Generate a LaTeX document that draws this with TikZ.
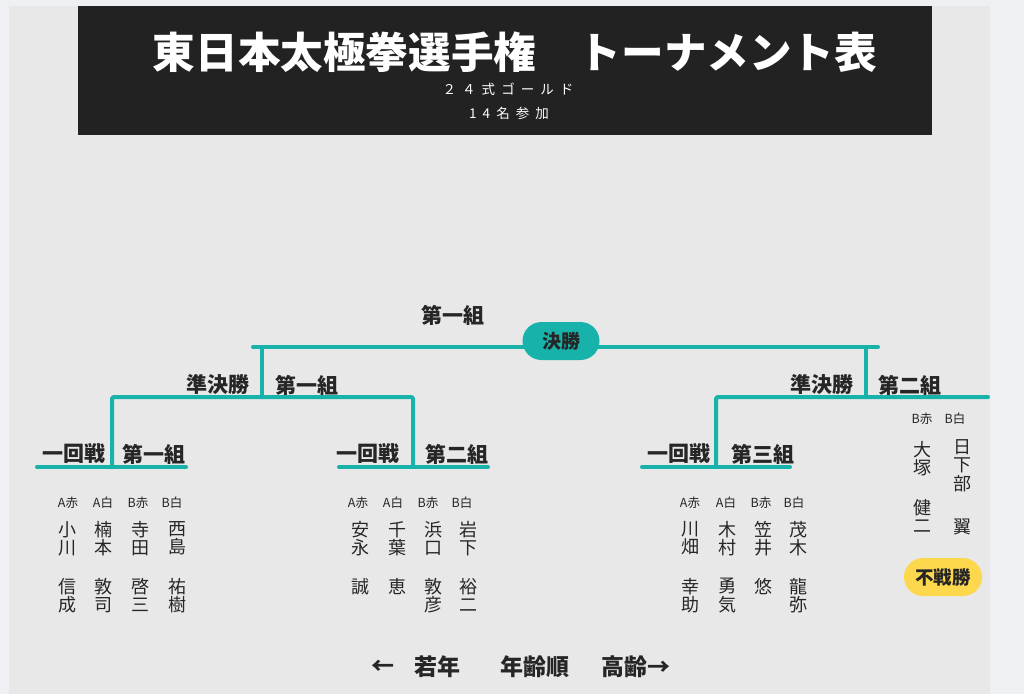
\documentclass[tikz,border=0pt]{standalone}
\usepackage{fontspec}
\setmainfont{Noto Sans CJK JP}
\newfontfamily\subfont[LetterSpace=45]{Noto Sans CJK JP}
\definecolor{pagebg}{HTML}{EEF0F4}
\definecolor{panelbg}{HTML}{E8E8E8}
\definecolor{headdark}{HTML}{222222}
\definecolor{inkgray}{HTML}{262626}
\definecolor{bracketteal}{HTML}{17B3AB}
\definecolor{byeyellow}{HTML}{FDD84C}
\begin{document}
\begin{tikzpicture}[x=1pt,y=-1pt,
    every node/.style={inner sep=0pt,text=inkgray,font=\fontsize{18}{18.5}\selectfont},
    bracket/.style={draw=bracketteal,line width=4pt,line cap=round,line join=round,rounded corners=2pt},
    roundlabel/.style={font=\bfseries\fontsize{21}{21}\selectfont},
    colhead/.style={font=\fontsize{12.5}{12.5}\selectfont},
    pname/.style={anchor=north,align=center,font=\fontsize{18}{18.5}\selectfont},
    pill/.style={rounded corners=19pt,minimum width=77pt,minimum height=38pt,font=\bfseries\fontsize{19}{19}\selectfont}]
    \useasboundingbox (0,0) rectangle (1024,694);
    \fill[pagebg] (0,0) rectangle (1024,694);
    \fill[panelbg] (9,6) rectangle (990,694);
    \fill[headdark] (78,6) rectangle (932,135);
    \node[text=white,font=\bfseries\fontsize{42.6}{42.6}\selectfont] (title) at (515,52) {東日本太極拳選手権　トーナメント表};
    \node[text=white,font=\subfont\fontsize{13.5}{13.5}\selectfont] (style) at (508,89) {２４式ゴールド};
    \node[text=white,font=\subfont\fontsize{13.5}{13.5}\selectfont] (count) at (509,113) {14名参加};
    % bracket
    \coordinate (fL) at (253,347); \coordinate (fR) at (878,347);
    \coordinate (f1) at (262,347); \coordinate (s1) at (262,397);
    \coordinate (f2) at (866,347); \coordinate (s2) at (866,397);
    \draw[bracket] (fL) -- (fR);
    \draw[bracket] (f1) -- (s1);
    \draw[bracket] (f2) -- (s2);
    \draw[bracket] (112,467) -- (112,397) -- (413,397) -- (413,467);
    \draw[bracket] (716,467) -- (716,397) -- (988,397);
    \draw[bracket] (37,467) -- (186,467);
    \draw[bracket] (339,467) -- (488,467);
    \draw[bracket] (642,467) -- (790,467);
    \node[pill,fill=bracketteal] (final) at (561,341) {決勝};
    \node[roundlabel] (fgrp) at (453,315) {第一組};
    \node[roundlabel] (semi1) at (218,385) {準決勝};
    \node[roundlabel] (sgrp1) at (307,385) {第一組};
    \node[roundlabel] (semi2) at (822,385) {準決勝};
    \node[roundlabel] (sgrp2) at (910,385) {第二組};
    \node[roundlabel] (r1a) at (74,454) {一回戦};
    \node[roundlabel] (g1a) at (154,454) {第一組};
    \node[roundlabel] (r1b) at (368,454) {一回戦};
    \node[roundlabel] (g1b) at (457,454) {第二組};
    \node[roundlabel] (r1c) at (679,454) {一回戦};
    \node[roundlabel] (g1c) at (763,454) {第三組};
    % group one
    \node[colhead] (h11) at (68,503) {A赤};
    \node[colhead] (h12) at (103,503) {A白};
    \node[colhead] (h13) at (138,503) {B赤};
    \node[colhead] (h14) at (172,503) {B白};
    \node[pname] (s11) at (67,521) {小\\川};
    \node[pname] (s12) at (103,521) {楠\\本};
    \node[pname] (s13) at (140,521) {寺\\田};
    \node[pname] (s14) at (177,521) {西\\島};
    \node[pname] (n11) at (67,578) {信\\成};
    \node[pname] (n12) at (103,578) {敦\\司};
    \node[pname] (n13) at (140,578) {啓\\三};
    \node[pname] (n14) at (177,578) {祐\\樹};
    % group two
    \node[colhead] (h21) at (358,503) {A赤};
    \node[colhead] (h22) at (393,503) {A白};
    \node[colhead] (h23) at (428,503) {B赤};
    \node[colhead] (h24) at (462,503) {B白};
    \node[pname] (s21) at (360,521) {安\\永};
    \node[pname] (s22) at (397,521) {千\\葉};
    \node[pname] (s23) at (433,521) {浜\\口};
    \node[pname] (s24) at (468,521) {岩\\下};
    \node[pname] (n21) at (360,578) {誠};
    \node[pname] (n22) at (397,578) {恵};
    \node[pname] (n23) at (433,578) {敦\\彦};
    \node[pname] (n24) at (468,578) {裕\\二};
    % group three
    \node[colhead] (h31) at (690,503) {A赤};
    \node[colhead] (h32) at (726,503) {A白};
    \node[colhead] (h33) at (761,503) {B赤};
    \node[colhead] (h34) at (794,503) {B白};
    \node[pname] (s31) at (690,521) {川\\畑};
    \node[pname] (s32) at (727,521) {木\\村};
    \node[pname] (s33) at (763,521) {笠\\井};
    \node[pname] (s34) at (798,521) {茂\\木};
    \node[pname] (n31) at (690,578) {幸\\助};
    \node[pname] (n32) at (727,578) {勇\\気};
    \node[pname] (n33) at (763,578) {悠};
    \node[pname] (n34) at (798,578) {龍\\弥};
    % bye
    \node[colhead] (h43) at (922,419) {B赤};
    \node[colhead] (h44) at (955,419) {B白};
    \node[pname] (s43) at (922,441) {大\\塚};
    \node[pname] (s44) at (962,439) {日\\下\\部};
    \node[pname] (n43) at (922,499) {健\\二};
    \node[pname] (n44) at (962,519) {翼};
    \node[pill,fill=byeyellow,minimum width=78pt,font=\bfseries\fontsize{18.5}{18.5}\selectfont] (bye) at (943,577) {不戦勝};
    % age order
    \node[roundlabel,font=\bfseries\fontsize{23}{23}\selectfont] (young) at (383,667) {←};
    \node[roundlabel,font=\bfseries\fontsize{23}{23}\selectfont] (youngtxt) at (437,667) {若年};
    \node[roundlabel,font=\bfseries\fontsize{23}{23}\selectfont] (order) at (535,667) {年齢順};
    \node[roundlabel,font=\bfseries\fontsize{23}{23}\selectfont] (old) at (636,667) {高齢→};
\end{tikzpicture}
\end{document}
